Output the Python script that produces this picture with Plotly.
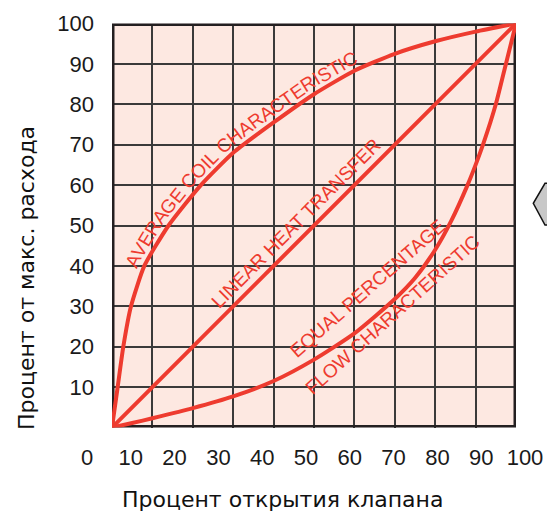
import numpy as np
import plotly.graph_objects as go

# ---------------- data ----------------
open_pct = [0, 100]                       # % valve opening (linear heat transfer)
linear_y = [0, 100]
coil_x = [0, 1.4, 2.8, 4.7, 8, 14, 22, 30, 40, 50, 60, 70, 80, 90, 100]
coil_y = [0, 10, 20, 30, 40, 50, 60, 68, 75.5, 82.5, 88.3, 92.5, 95.6, 98, 100]
eqp_x = [0, 5, 10, 20, 30, 40, 50, 60, 70, 75, 80, 84, 88, 90, 92, 95, 97.5, 100]
eqp_y = [0, 1.1, 2.3, 4.8, 7.7, 11.5, 16.8, 23.3, 31.8, 37, 44, 51.2, 60, 65, 70.5, 80, 90, 100]
x_tick_vals = [0, 10, 20, 30, 40, 50, 60, 70, 80, 90, 100]
x_tick_text = ["0", "10", "20", "30", "40", "50", "60", "70", "80", "90", "100"]
y_tick_vals = [10, 20, 30, 40, 50, 60, 70, 80, 90, 100]
y_tick_text = ["10", "20", "30", "40", "50", "60", "70", "80", "90", "100"]
grid_vals = [0, 10, 20, 30, 40, 50, 60, 70, 80, 90, 100]

x_title = "Процент открытия клапана"
y_title = "Процент от макс. расхода"
coil_label = "AVERAGE COIL CHARACTERISTIC"
linear_label = "LINEAR HEAT TRANSFER"
eqp_label1 = "EQUAL PERCENTAGE"
eqp_label2 = "FLOW CHARACTERISTIC"

# ---------------- layout geometry ----------------
W, H = 547, 512
ML, MR, MT, MB = 80, 17, 23, 72
PW, PH = W - ML - MR, H - MT - MB
PX_L, PX_R = 112.0, 516.0       # plot area pixel extents
PY_T, PY_B = 23.5, 427.5
x_dom = [(PX_L - ML) / PW, (PX_R - ML) / PW]
y_dom = [(H - MB - PY_B) / PH, (H - MB - PY_T) / PH]
x2_dom = [(87 - ML) / PW, (525 - ML) / PW]
sx = (PX_R - PX_L) / 100.0
sy = (PY_B - PY_T) / 100.0

RED = "#EE3B2F"
FRAME = "#231F20"
GRID = "#3a3a3a"
BG = "#FDE8E1"
LBL_FONT = "Liberation Sans, Arial, sans-serif"

fig = go.Figure()

fig.add_trace(go.Scatter(x=coil_x, y=coil_y, mode="lines", line=dict(color=RED, width=4, shape="spline", smoothing=0.55),
                         hoverinfo="skip", showlegend=False))
fig.add_trace(go.Scatter(x=open_pct, y=linear_y, mode="lines", line=dict(color=RED, width=4),
                         hoverinfo="skip", showlegend=False))
fig.add_trace(go.Scatter(x=eqp_x, y=eqp_y, mode="lines", line=dict(color=RED, width=4, shape="spline", smoothing=0.6),
                         hoverinfo="skip", showlegend=False))
# carrier trace for the offset tick-label axis
fig.add_trace(go.Scatter(x=x_tick_vals, y=[None] * len(x_tick_vals), xaxis="x2", yaxis="y2",
                         mode="lines", hoverinfo="skip", showlegend=False))

# ---------------- curved text along the coil curve ----------------
EM = {"A": .667, "V": .667, "E": .667, "R": .722, "G": .778, " ": .278, "C": .722, "O": .778,
      "I": .278, "L": .556, "H": .722, "T": .611, "S": .667, "N": .722, "F": .611, "Q": .778,
      "U": .722, "P": .667, "W": .944}


def text_along(xs, ys, text, x_start, offset, size):
    fx = np.linspace(xs[0], xs[-1], 6000)
    fy = np.interp(fx, xs, ys)
    px = PX_L + fx * sx
    py = PY_B - fy * sy
    # light smoothing of the guide path so letter angles change gradually
    k = np.ones(81) / 81.0
    pxs = np.convolve(np.pad(px, 40, mode="edge"), k, mode="valid")
    pys = np.convolve(np.pad(py, 40, mode="edge"), k, mode="valid")
    tx, ty = np.gradient(pxs), np.gradient(pys)
    n = np.hypot(tx, ty)
    tx, ty = tx / n, ty / n
    qx, qy = px + offset * ty, py - offset * tx
    s = np.concatenate([[0], np.cumsum(np.hypot(np.diff(qx), np.diff(qy)))])
    s0 = np.interp(x_start, fx, s)
    out = []
    acc = 0.0
    for ch in text:
        w = EM.get(ch, .6) * size
        sc = s0 + acc + w / 2
        acc += w
        if ch == " ":
            continue
        cx = np.interp(sc, s, qx)
        cy = np.interp(sc, s, qy)
        ang = np.degrees(np.arctan2(np.interp(sc, s, ty), np.interp(sc, s, tx)))
        out.append(dict(x=(cx - PX_L) / sx, y=(PY_B - cy) / sy, text=ch, textangle=float(ang)))
    return out


annotations = []
for a in text_along(coil_x, coil_y, coil_label, 7.6, 12, 19):
    annotations.append(dict(x=a["x"], y=a["y"], xref="x", yref="y", text=a["text"], textangle=a["textangle"],
                            showarrow=False, font=dict(family=LBL_FONT, size=19, color=RED)))

annotations.append(dict(x=45.5, y=50.5, xref="x", yref="y", text=linear_label, textangle=-45, showarrow=False,
                        font=dict(family=LBL_FONT, size=19, color=RED)))
annotations.append(dict(x=63.2, y=34.5, xref="x", yref="y", text=eqp_label1, textangle=-41, showarrow=False,
                        font=dict(family=LBL_FONT, size=19, color=RED)))
annotations.append(dict(x=69.5, y=28.0, xref="x", yref="y", text=eqp_label2, textangle=-42, showarrow=False,
                        font=dict(family=LBL_FONT, size=19, color=RED)))

# axis titles
annotations.append(dict(x=(282 - ML) / PW, y=(H - MB - 499) / PH, xref="paper", yref="paper", text=x_title,
                        showarrow=False, xanchor="center", yanchor="middle",
                        font=dict(family="DejaVu Sans, sans-serif", size=22, color="#111")))
annotations.append(dict(x=(26 - ML) / PW, y=(H - MB - 278) / PH, xref="paper", yref="paper", text=y_title,
                        showarrow=False, xanchor="center", yanchor="middle", textangle=-90,
                        font=dict(family="DejaVu Sans, sans-serif", size=22, color="#111")))

shapes = [
    dict(type="rect", xref="x", yref="y", x0=0, x1=100, y0=0, y1=100, layer="below",
         line=dict(width=0), fillcolor=BG),
    dict(type="rect", xref="x", yref="y", x0=0, x1=100, y0=0, y1=100, layer="between",
         line=dict(color=FRAME, width=5), fillcolor="rgba(0,0,0,0)"),
    dict(type="path", xref="paper", yref="paper",
         path="M {a},{b} L {c},{b} L {d},{e} L {c},{f} L {a},{f} Z".format(
             a=(552 - ML) / PW, b=(H - MB - 183.3) / PH, c=(545 - ML) / PW,
             d=(533.3 - ML) / PW, e=(H - MB - 203.3) / PH, f=(H - MB - 225) / PH),
         fillcolor="#C8C8C8", line=dict(color="#111", width=1.5), layer="above"),
]

fig.update_layout(
    template="none",
    width=W, height=H,
    margin=dict(l=ML, r=MR, t=MT, b=MB, pad=0, autoexpand=False),
    paper_bgcolor="white", plot_bgcolor="rgba(0,0,0,0)",
    showlegend=False,
    xaxis=dict(domain=x_dom, range=[0, 100], tickvals=grid_vals, showticklabels=False, ticks="", automargin=False,
               showgrid=True, gridcolor=GRID, gridwidth=1.6, zeroline=False, showline=False, fixedrange=True),
    yaxis=dict(domain=y_dom, range=[0, 100], tickvals=y_tick_vals, ticktext=y_tick_text, ticks="", automargin=False,
               showgrid=True, gridcolor=GRID, gridwidth=1.6, zeroline=False, showline=False,
               tickfont=dict(family=LBL_FONT, size=22, color="#1a1a1a"), ticklabelstandoff=17, fixedrange=True),
    xaxis2=dict(domain=x2_dom, range=[0, 100], anchor="y2", tickvals=x_tick_vals, ticktext=x_tick_text,
                ticks="", showgrid=False, zeroline=False, showline=False, automargin=False,
                tickfont=dict(family=LBL_FONT, size=22, color="#1a1a1a"), ticklabelstandoff=2, fixedrange=True),
    yaxis2=dict(domain=[0, 0.01], range=[0, 1], visible=False, showgrid=False, fixedrange=True, automargin=False),
    annotations=annotations,
    shapes=shapes,
)

fig.write_html("out.html", config={"displayModeBar": False},
               post_script="document.body.style.margin='0';document.body.style.overflow='hidden';")
